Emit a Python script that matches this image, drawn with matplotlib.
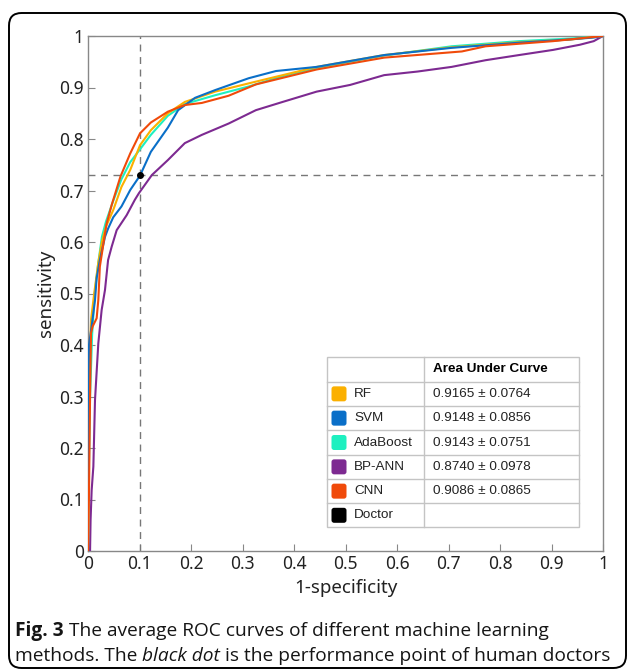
import matplotlib
matplotlib.use("Agg")
import matplotlib.pyplot as plt
from matplotlib.patches import FancyBboxPatch, Rectangle

# ---------------- data ----------------
methods = ["RF", "SVM", "AdaBoost", "BP-ANN", "CNN"]
auc_text = ["0.9165 \u00b1 0.0764", "0.9148 \u00b1 0.0856", "0.9143 \u00b1 0.0751",
            "0.8740 \u00b1 0.0978", "0.9086 \u00b1 0.0865"]
colors = ["#FBB000", "#0A6FC8", "#1EF0C0", "#7D2A91", "#F04A0A"]

rf_fpr = [0, 0.001, 0.003, 0.006, 0.012, 0.02, 0.027, 0.035, 0.049, 0.065, 0.082, 0.101,
          0.122, 0.155, 0.188, 0.247, 0.312, 0.378, 0.444, 0.575, 0.706, 0.837, 0.936, 1]
rf_tpr = [0, 0.15, 0.35, 0.45, 0.50, 0.56, 0.60, 0.63, 0.662, 0.707, 0.74, 0.788,
          0.817, 0.85, 0.872, 0.892, 0.908, 0.924, 0.940, 0.963, 0.978, 0.988, 0.993, 1]

svm_fpr = [0, 0, 0.002, 0.007, 0.0136, 0.0168, 0.023, 0.033, 0.039, 0.049, 0.065, 0.082,
           0.101, 0.122, 0.155, 0.175, 0.208, 0.247, 0.312, 0.365, 0.444, 0.575, 0.706,
           0.837, 0.93, 0.982, 1]
svm_tpr = [0, 0.26, 0.40, 0.436, 0.487, 0.53, 0.565, 0.61, 0.626, 0.648, 0.669, 0.701,
           0.729, 0.775, 0.822, 0.856, 0.880, 0.895, 0.918, 0.932, 0.940, 0.963, 0.977,
           0.987, 0.993, 0.997, 1]

ada_fpr = [0, 0.001, 0.004, 0.008, 0.013, 0.02, 0.027, 0.035, 0.049, 0.065, 0.082, 0.101,
           0.122, 0.155, 0.188, 0.247, 0.312, 0.378, 0.444, 0.575, 0.706, 0.837, 0.936, 1]
ada_tpr = [0, 0.12, 0.30, 0.42, 0.50, 0.56, 0.61, 0.64, 0.68, 0.722, 0.755, 0.78,
           0.808, 0.845, 0.868, 0.885, 0.902, 0.922, 0.938, 0.962, 0.980, 0.990, 0.995, 1]

ann_fpr = [0, 0.004, 0.005, 0.0071, 0.0104, 0.0136, 0.020, 0.0265, 0.033, 0.039, 0.046,
           0.0557, 0.075, 0.091, 0.099, 0.124, 0.155, 0.188, 0.221, 0.273, 0.326, 0.378,
           0.444, 0.509, 0.575, 0.640, 0.706, 0.772, 0.837, 0.903, 0.955, 0.982, 1]
ann_tpr = [0, 0.0, 0.06, 0.118, 0.164, 0.293, 0.403, 0.468, 0.507, 0.565, 0.591,
           0.623, 0.652, 0.682, 0.695, 0.73, 0.759, 0.792, 0.808, 0.830, 0.856, 0.872,
           0.892, 0.905, 0.924, 0.931, 0.940, 0.953, 0.963, 0.973, 0.983, 0.99, 1]

cnn_fpr = [0, 0.002, 0.004, 0.0058, 0.009, 0.0168, 0.02, 0.023, 0.030, 0.036, 0.046, 0.063,
           0.082, 0.101, 0.122, 0.155, 0.188, 0.221, 0.273, 0.326, 0.444, 0.575, 0.726,
           0.772, 0.903, 1]
cnn_tpr = [0, 0.118, 0.30, 0.423, 0.436, 0.452, 0.487, 0.552, 0.597, 0.635, 0.672, 0.727,
           0.772, 0.811, 0.832, 0.853, 0.866, 0.870, 0.884, 0.906, 0.935, 0.958, 0.970,
           0.980, 0.990, 1]

doctor_fpr = 0.1
doctor_tpr = 0.73

x_ticks = [0, 0.1, 0.2, 0.3, 0.4, 0.5, 0.6, 0.7, 0.8, 0.9, 1]
x_ticklabels = ["0", "0.1", "0.2", "0.3", "0.4", "0.5", "0.6", "0.7", "0.8", "0.9", "1"]
y_ticks = x_ticks
y_ticklabels = x_ticklabels

# ---------------- figure ----------------
W, H = 630, 670
fig = plt.figure(figsize=(W / 100, H / 100), dpi=100)

# rounded frame
frame = FancyBboxPatch((9 / W, 2 / H), (617 / W), (655 / H),
                       boxstyle="round,pad=0,rounding_size=0.02",
                       transform=fig.transFigure, fill=False, edgecolor="black",
                       linewidth=1.4, mutation_aspect=W / H)
fig.patches.append(frame)

ax = fig.add_axes([88 / W, (H - 551) / H, 515 / W, 515 / H])
ax.set_xlim(0, 1)
ax.set_ylim(0, 1)

curves = [(rf_fpr, rf_tpr), (svm_fpr, svm_tpr), (ada_fpr, ada_tpr),
          (ann_fpr, ann_tpr), (cnn_fpr, cnn_tpr)]
order = [3, 2, 0, 1, 4]
for i in order:
    fx, ty = curves[i]
    ax.plot(fx, ty, color=colors[i], linewidth=1.5, zorder=3)

ax.axvline(doctor_fpr, color="#777777", linestyle=(0, (5, 4)), linewidth=1.0, zorder=2)
ax.axhline(doctor_tpr, color="#777777", linestyle=(0, (5, 4)), linewidth=1.0, zorder=2)
ax.plot([doctor_fpr], [doctor_tpr], "o", color="black", markersize=4, zorder=5)

tick_font = "Noto Sans"
ax.set_xticks(x_ticks)
ax.set_xticklabels(x_ticklabels, fontfamily=tick_font, fontsize=12.5, color="#222222")
ax.set_yticks(y_ticks)
ax.set_yticklabels(y_ticklabels, fontfamily=tick_font, fontsize=12.5, color="#222222")
ax.tick_params(direction="in", length=5, color="#888888", pad=3)
for s in ax.spines.values():
    s.set_color("#888888")
    s.set_linewidth(1.0)
ax.set_xlabel("1-specificity", fontfamily=tick_font, fontsize=13.5, color="#222222", labelpad=4)
ax.set_ylabel("sensitivity", fontfamily=tick_font, fontsize=13.5, color="#222222", labelpad=3)

# ---------------- AUC table ----------------
def fx_(px):
    return (px - 88) / 515.0

def fy_(py):
    return (551 - py) / 515.0

tl, tdiv, tr = fx_(327.3), fx_(424), fx_(579.3)
row_edges = [356.7, 381.7, 406, 430.3, 454.7, 479, 503.3, 527.3]
tab_font = "Liberation Sans"
grid_c = "#c4c4c4"
ax.add_patch(Rectangle((tl, fy_(row_edges[-1])), tr - tl, fy_(row_edges[0]) - fy_(row_edges[-1]),
                       transform=ax.transAxes, facecolor="white", edgecolor=grid_c,
                       linewidth=1.0, zorder=6))
for e in row_edges[1:-1]:
    ax.plot([tl, tr], [fy_(e), fy_(e)], transform=ax.transAxes, color=grid_c, lw=1.0, zorder=7)
ax.plot([tdiv, tdiv], [fy_(row_edges[0]), fy_(row_edges[-1])], transform=ax.transAxes,
        color=grid_c, lw=1.0, zorder=7)

ax.text(fx_(432.7), fy_((row_edges[0] + row_edges[1]) / 2), "Area Under Curve",
        transform=ax.transAxes, ha="left", va="center", fontfamily=tab_font,
        fontsize=9.7, fontweight="bold", zorder=8)

row_names = methods + ["Doctor"]
row_cols = colors + ["black"]
row_vals = auc_text + [""]
for k in range(6):
    top, bot = row_edges[k + 1], row_edges[k + 2]
    cy = (top + bot) / 2
    sw = FancyBboxPatch((fx_(331.5), fy_(cy + 7.5)), fx_(346.5) - fx_(331.5), 15 / 515.0,
                        boxstyle="round,pad=0,rounding_size=0.005",
                        transform=ax.transAxes, facecolor=row_cols[k], edgecolor="none", zorder=8)
    ax.add_patch(sw)
    ax.text(fx_(354), fy_(cy), row_names[k], transform=ax.transAxes, ha="left", va="center",
            fontfamily=tab_font, fontsize=9.7, color="#222222", zorder=8)
    if row_vals[k]:
        ax.text(fx_(432.7), fy_(cy), row_vals[k], transform=ax.transAxes, ha="left",
                va="center", fontfamily=tab_font, fontsize=9.7, color="#222222", zorder=8)

# ---------------- caption ----------------
cap_font = "Open Sans"
cap_size = 13.8
fig.canvas.draw()
renderer = fig.canvas.get_renderer()

def put_pieces(pieces, x0_px, y_px):
    x = x0_px
    for txt, kw in pieces:
        t = fig.text(x / W, 1 - y_px / H, txt, ha="left", va="baseline",
                     fontfamily=cap_font, fontsize=cap_size, color="#151515", **kw)
        bb = t.get_window_extent(renderer=renderer)
        x += bb.width

put_pieces([("Fig. 3", {"fontweight": "bold"}),
            (" The average ROC curves of different machine learning", {})], 15, 636)
put_pieces([("methods. The ", {}), ("black dot", {"fontstyle": "italic"}),
            (" is the performance point of human doctors", {})], 15, 661)

fig.savefig("out.png", dpi=100)
